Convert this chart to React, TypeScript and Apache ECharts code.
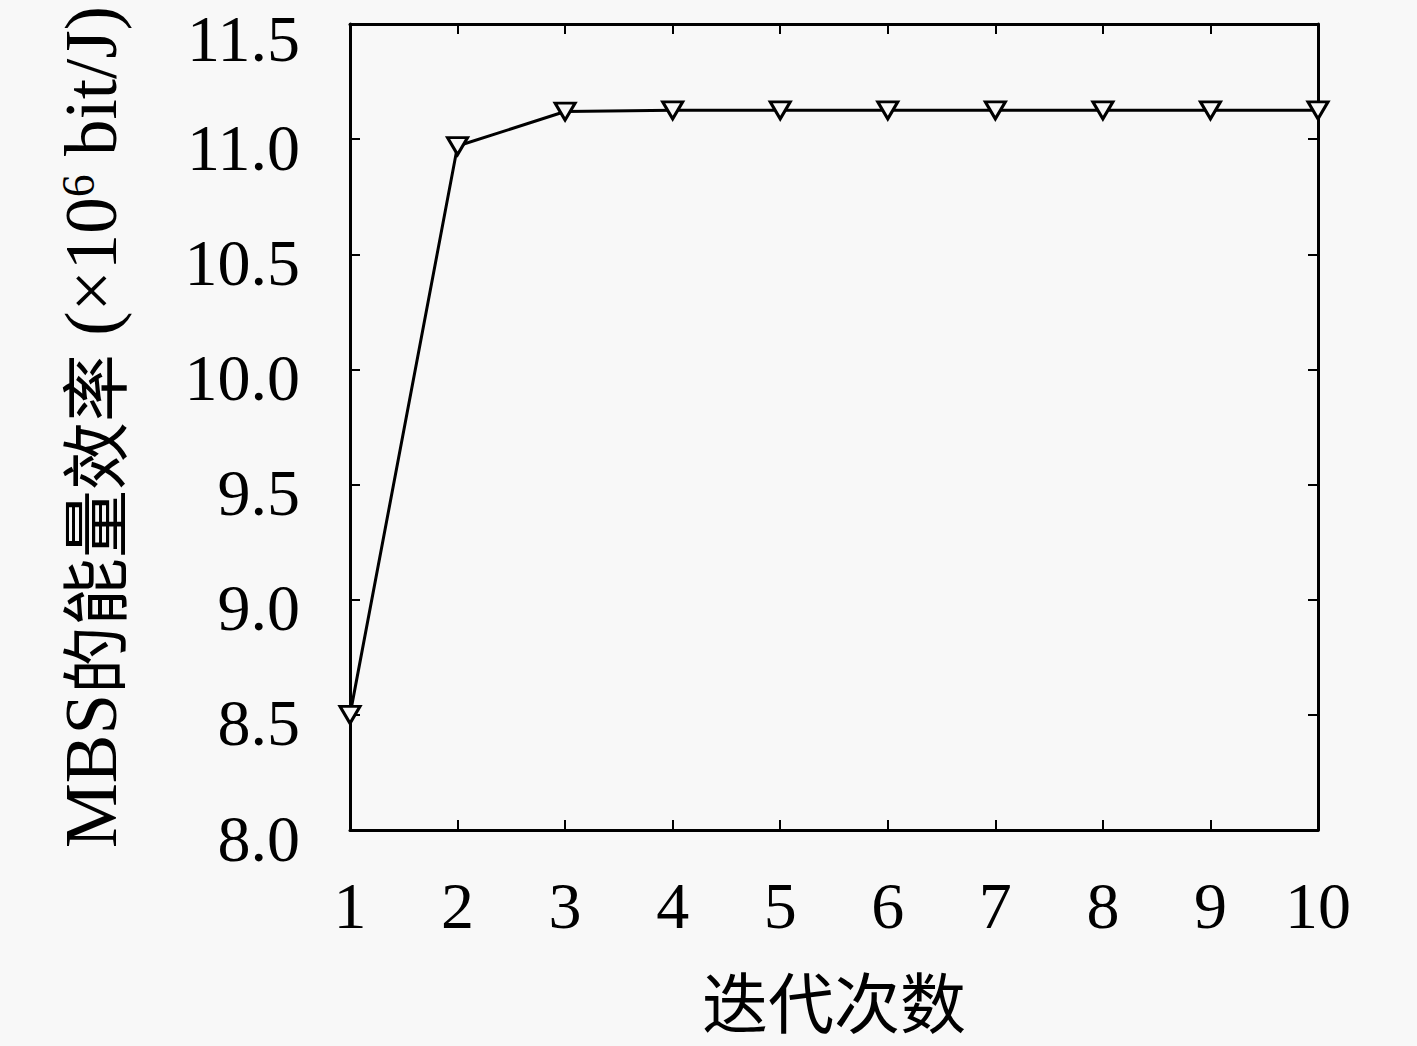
import React, { useEffect, useRef } from "react";
import * as echarts from "echarts";

const iterations = [1, 2, 3, 4, 5, 6, 7, 8, 9, 10];
const efficiency = [8.5, 10.97, 11.12, 11.125, 11.125, 11.125, 11.125, 11.125, 11.125, 11.125];
const yMin = 8.0;
const yMax = 11.5;
const yStep = 0.5;
const xName = "迭代次数";

const FONT = "'Liberation Serif', 'Noto Sans CJK SC', serif";
const CJK = "'Noto Sans CJK SC', 'Liberation Serif', serif";

export default function App() {
  const ref = useRef<HTMLDivElement>(null);
  useEffect(() => {
    document.body.style.margin = "0";
    const chart = echarts.init(ref.current!, null, { renderer: "svg" });
    const axisLine = { show: true, lineStyle: { color: "#000", width: 3 } };
    const tick = { show: true, inside: true, length: 10, lineStyle: { color: "#000", width: 2 } };
    chart.setOption({
      animation: false,
      backgroundColor: "#f8f8f8",
      grid: { left: 350, top: 24, right: 99, bottom: 216, containLabel: false, outerBoundsMode: "none" },
      xAxis: [
        {
          type: "value",
          min: 1,
          max: 10,
          interval: 1,
          axisLine,
          axisTick: tick,
          splitLine: { show: false },
          axisLabel: { color: "#000", fontSize: 66, fontFamily: FONT, margin: 42 },
          name: xName,
          nameLocation: "middle",
          nameGap: 136,
          nameTextStyle: { color: "#000", fontSize: 66, fontFamily: CJK },
        },
        {
          type: "value",
          position: "top",
          min: 1,
          max: 10,
          interval: 1,
          axisLine,
          axisTick: tick,
          axisLabel: { show: false },
          splitLine: { show: false },
        },
      ],
      yAxis: [
        {
          type: "value",
          min: yMin,
          max: yMax,
          interval: yStep,
          axisLine,
          axisTick: tick,
          splitLine: { show: false },
          axisLabel: {
            color: "#000",
            fontSize: 66,
            fontFamily: FONT,
            margin: 50,
            verticalAlign: "top",
            lineHeight: 16,
            formatter: (v: number) => (v >= yMax ? "{top|" + v.toFixed(1) + "}" : v.toFixed(1)),
            rich: {
              top: { color: "#000", fontSize: 66, fontFamily: FONT, lineHeight: 28 },
            },
          },
          name: "{t|MBS}{c|的能量效率}{t| (×10}{sup|6}{t| bit/J)}",
          nameLocation: "middle",
          nameRotate: 90,
          nameGap: 222,
          nameTextStyle: {
            rich: {
              t: { color: "#000", fontSize: 73, fontFamily: FONT },
              c: { color: "#000", fontSize: 68, fontFamily: CJK },
              sup: { color: "#000", fontSize: 46, fontFamily: FONT, verticalAlign: "top", padding: [0, 0, 24, 0] },
            },
          },
        },
        {
          type: "value",
          position: "right",
          min: yMin,
          max: yMax,
          interval: yStep,
          axisLine,
          axisTick: tick,
          axisLabel: { show: false },
          splitLine: { show: false },
        },
      ],
      series: [
        {
          type: "line",
          data: iterations.map((x, i) => [x, efficiency[i]]),
          lineStyle: { color: "#000", width: 3 },
          symbol: "triangle",
          symbolRotate: 180,
          symbolSize: [20, 17],
          showAllSymbol: true,
          itemStyle: { color: "#f8f8f8", borderColor: "#000", borderWidth: 3 },
          z: 3,
        },
      ],
    });
    return () => chart.dispose();
  }, []);
  return (
    <div
      ref={ref}
      style={{ position: "absolute", left: 0, top: 0, width: 1417, height: 1046 }}
    />
  );
}
